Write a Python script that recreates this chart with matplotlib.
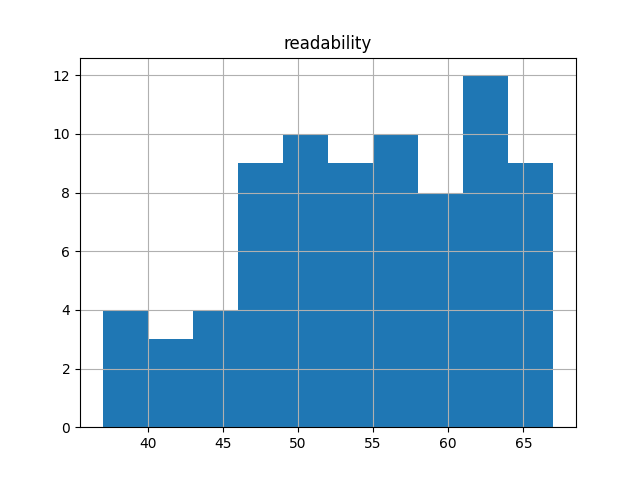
import matplotlib
matplotlib.use("Agg")
import matplotlib.pyplot as plt
import numpy as np

bin_edges = [37, 40, 43, 46, 49, 52, 55, 58, 61, 64, 67]
counts = [4, 3, 4, 9, 10, 9, 10, 8, 12, 9]

fig, ax = plt.subplots(figsize=(6.4, 4.8), dpi=100)
ax.hist(bin_edges[:-1], bins=bin_edges, weights=counts, color="#1f77b4")
ax.grid(True)
ax.set_title("readability")
fig.savefig("out.png")
